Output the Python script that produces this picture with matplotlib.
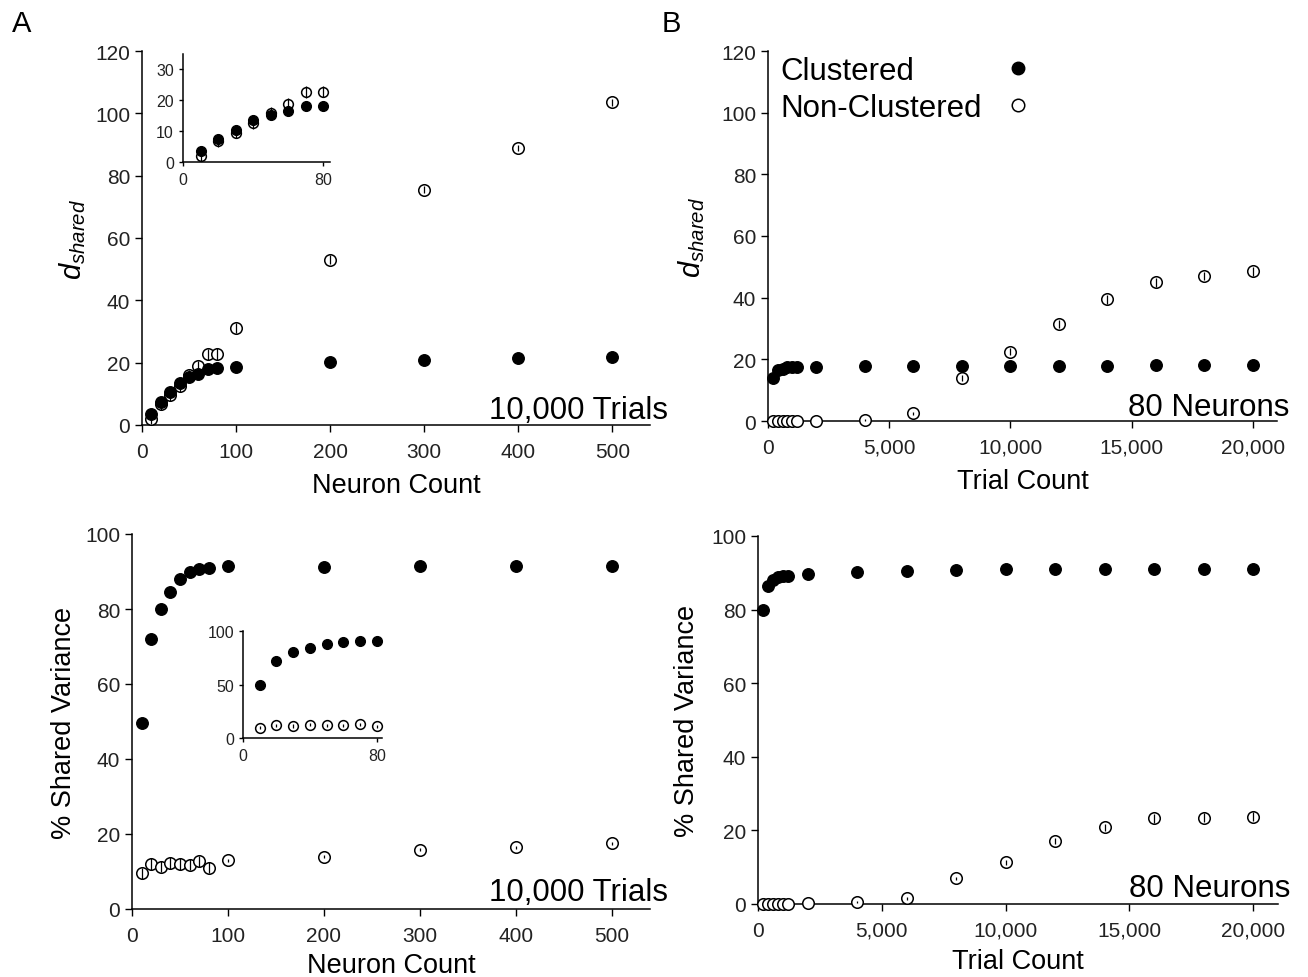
import numpy as np
import matplotlib
matplotlib.use('Agg')
from matplotlib import pyplot as plt
from matplotlib.lines import Line2D
from matplotlib.ticker import FuncFormatter

plt.rcParams['font.family'] = ['Liberation Sans', 'DejaVu Sans']
plt.rcParams['mathtext.fontset'] = 'custom'
plt.rcParams['mathtext.it'] = 'Liberation Sans:italic'
plt.rcParams['mathtext.rm'] = 'Liberation Sans'

# --- data -------------------------------------------------------------
neurons = [10, 20, 30, 40, 50, 60, 70, 80, 100, 200, 300, 400, 500]
trials = [200, 400, 600, 800, 1000, 1200, 2000, 4000, 6000, 8000,
          10000, 12000, 14000, 16000, 18000, 20000]

# A top: d_shared vs neuron count (10,000 trials)
dA_clu = [3.6, 7.5, 10.5, 13.5, 15.3, 16.5, 18.0, 18.2, 18.5, 20.3, 21.0, 21.5, 21.8]
dA_non = [2.0, 6.7, 9.5, 12.5, 16.0, 18.8, 22.7, 22.8, 31.0, 53.0, 75.5, 89.0, 103.5]
dA_non_err = [1.8, 1.8, 1.8, 1.8, 1.8, 1.8, 1.8, 1.8, 1.6, 1.4, 1.2, 1.0, 1.0]

# B top: d_shared vs trial count (80 neurons)
dB_clu = [13.8, 16.5, 17.0, 17.5, 17.6, 17.5, 17.6, 18.0, 18.0, 18.0,
          18.0, 18.0, 18.0, 18.2, 18.2, 18.2]
dB_non = [0.0, 0.0, 0.0, 0.0, 0.0, 0.0, 0.0, 0.3, 2.5, 14.0,
          22.5, 31.5, 39.5, 45.0, 47.0, 48.5]
dB_non_err = [0.0, 0.0, 0.0, 0.0, 0.0, 0.0, 0.0, 0.3, 0.5, 1.0,
              1.2, 1.4, 1.4, 1.4, 1.4, 1.4]

# A bottom: % shared variance vs neuron count
vA_clu = [49.5, 72.0, 80.0, 84.5, 88.0, 90.0, 90.8, 91.0, 91.5, 91.3, 91.5, 91.5, 91.5]
vA_non = [9.5, 12.0, 11.3, 12.3, 12.0, 11.8, 12.7, 11.0, 13.0, 14.0, 15.8, 16.5, 17.5]
vA_non_err = [1.5, 1.5, 1.5, 1.5, 1.5, 1.5, 1.5, 1.5, 0.4, 0.4, 0.4, 0.4, 0.4]

# B bottom: % shared variance vs trial count
vB_clu = [80.0, 86.5, 88.0, 88.8, 89.0, 89.2, 89.8, 90.3, 90.5, 90.8,
          91.0, 91.0, 91.0, 91.0, 91.0, 91.0]
vB_non = [0.0, 0.0, 0.0, 0.0, 0.0, 0.0, 0.2, 0.5, 1.5, 7.0,
          11.3, 17.0, 20.8, 23.3, 23.5, 23.7]
vB_non_err = [0.0, 0.0, 0.0, 0.0, 0.0, 0.0, 0.0, 0.2, 0.3, 0.4,
              0.6, 0.8, 1.0, 1.2, 1.2, 1.2]

W, H = 1308, 978
fig = plt.figure(figsize=(W / 100, H / 100), dpi=100)


def px_axes(l, r, t, b):
    return fig.add_axes([l / W, 1 - b / H, (r - l) / W, (b - t) / H])


def style(ax, fs=15, tl=5, xpad=7):
    ax.spines['top'].set_visible(False)
    ax.spines['right'].set_visible(False)
    for s in ('left', 'bottom'):
        ax.spines[s].set_linewidth(1.1)
    ax.tick_params(direction='out', length=tl, width=1.0, labelsize=fs,
                   colors='black', labelcolor='#222222')
    ax.tick_params(axis='x', pad=xpad)


def scatter_pair(ax, x, clu, non, err, ms=8.3):
    x = np.asarray(x)
    ax.plot(x, non, 'o', ms=ms, mfc='white', mec='black', mew=1.1,
            zorder=3, clip_on=False)
    ax.errorbar(x, non, yerr=err, fmt='none', ecolor='black',
                elinewidth=0.9, capsize=0, zorder=3.5, clip_on=False)
    ax.plot(x, clu, 'o', ms=ms, color='black', zorder=4, clip_on=False)


comma = FuncFormatter(lambda v, p: f'{int(v):,}')

# ---- A top
ax1 = px_axes(142, 650, 52, 426)
scatter_pair(ax1, neurons, dA_clu, dA_non, dA_non_err)
ax1.set_xlim(0, 540)
ax1.set_ylim(0, 120)
ax1.set_xticks(range(0, 501, 100))
ax1.set_yticks(range(0, 121, 20))
style(ax1)
ax1.set_xlabel('Neuron Count', fontsize=19.5, labelpad=8)
ax1.set_ylabel(r'$d_{shared}$', fontsize=21, labelpad=5)
fig.text(668 / W, 1 - 419 / H, '10,000 Trials', fontsize=22.5, ha='right',
         va='baseline')

# inset
in1 = px_axes(183, 330, 55, 163)
scatter_pair(in1, neurons[:8], dA_clu[:8], dA_non[:8], dA_non_err[:8], ms=7)
in1.set_xlim(0, 84)
in1.set_ylim(0, 35)
in1.set_xticks([0, 80])
in1.set_yticks([0, 10, 20, 30])
style(in1, fs=11.5, tl=3, xpad=4)

# ---- B top
ax2 = px_axes(768, 1277, 52, 422)
scatter_pair(ax2, trials, dB_clu, dB_non, dB_non_err)
ax2.set_xlim(0, 21000)
ax2.set_ylim(0, 120)
ax2.set_xticks(range(0, 20001, 5000))
ax2.set_yticks(range(0, 121, 20))
ax2.xaxis.set_major_formatter(comma)
style(ax2)
ax2.set_xlabel('Trial Count', fontsize=19.5, labelpad=8)
ax2.set_ylabel(r'$d_{shared}$', fontsize=21, labelpad=10)
fig.text(1289 / W, 1 - 416 / H, '80 Neurons', fontsize=22.5, ha='right',
         va='baseline')

# legend: labels on the left, keys lined up further right
lab_handles = [Line2D([], [], ls='', marker=''), Line2D([], [], ls='', marker='')]
leg1 = ax2.legend(lab_handles, ['Clustered', 'Non-Clustered'], loc='upper left',
                  bbox_to_anchor=(-0.018, 1.045), frameon=False, fontsize=22.5,
                  handlelength=0, handletextpad=0, labelspacing=0.22,
                  borderaxespad=0.3)
ax2.add_artist(leg1)
key_handles = [Line2D([], [], ls='', marker='o', ms=9, color='black'),
               Line2D([], [], ls='', marker='o', ms=9, mfc='white', mec='black',
                      mew=1.1)]
ax2.legend(key_handles, ['', ''], loc='upper left',
           bbox_to_anchor=(0.418, 1.045), frameon=False, fontsize=22.5,
           handlelength=1.0, handletextpad=0, labelspacing=0.22,
           borderaxespad=0.3)

# ---- A bottom
ax3 = px_axes(132, 650, 535, 910)
scatter_pair(ax3, neurons, vA_clu, vA_non, vA_non_err)
ax3.set_xlim(0, 540)
ax3.set_ylim(0, 100)
ax3.set_xticks(range(0, 501, 100))
ax3.set_yticks(range(0, 101, 20))
style(ax3)
ax3.set_xlabel('Neuron Count', fontsize=19.5, labelpad=5)
ax3.set_ylabel('% Shared Variance', fontsize=19.5, labelpad=6)
fig.text(668 / W, 1 - 901 / H, '10,000 Trials', fontsize=22.5, ha='right',
         va='baseline')

in3 = px_axes(243, 382, 632, 739)
scatter_pair(in3, neurons[:8], vA_clu[:8], vA_non[:8], vA_non_err[:8], ms=7)
in3.set_xlim(0, 83)
in3.set_ylim(0, 100)
in3.set_xticks([0, 80])
in3.set_yticks([0, 50, 100])
style(in3, fs=11.5, tl=3, xpad=4)

# ---- B bottom
ax4 = px_axes(758, 1278, 537, 905)
scatter_pair(ax4, trials, vB_clu, vB_non, vB_non_err)
ax4.set_xlim(0, 21000)
ax4.set_ylim(0, 100)
ax4.set_xticks(range(0, 20001, 5000))
ax4.set_yticks(range(0, 101, 20))
ax4.xaxis.set_major_formatter(comma)
style(ax4)
ax4.set_xlabel('Trial Count', fontsize=19.5, labelpad=6)
ax4.set_ylabel('% Shared Variance', fontsize=19.5, labelpad=8)
fig.text(1290 / W, 1 - 897 / H, '80 Neurons', fontsize=22.5, ha='right',
         va='baseline')

fig.text(12 / W, 1 - 32 / H, 'A', fontsize=21, va='baseline')
fig.text(662 / W, 1 - 32 / H, 'B', fontsize=21, va='baseline')

plt.savefig('out.png', dpi=100)
